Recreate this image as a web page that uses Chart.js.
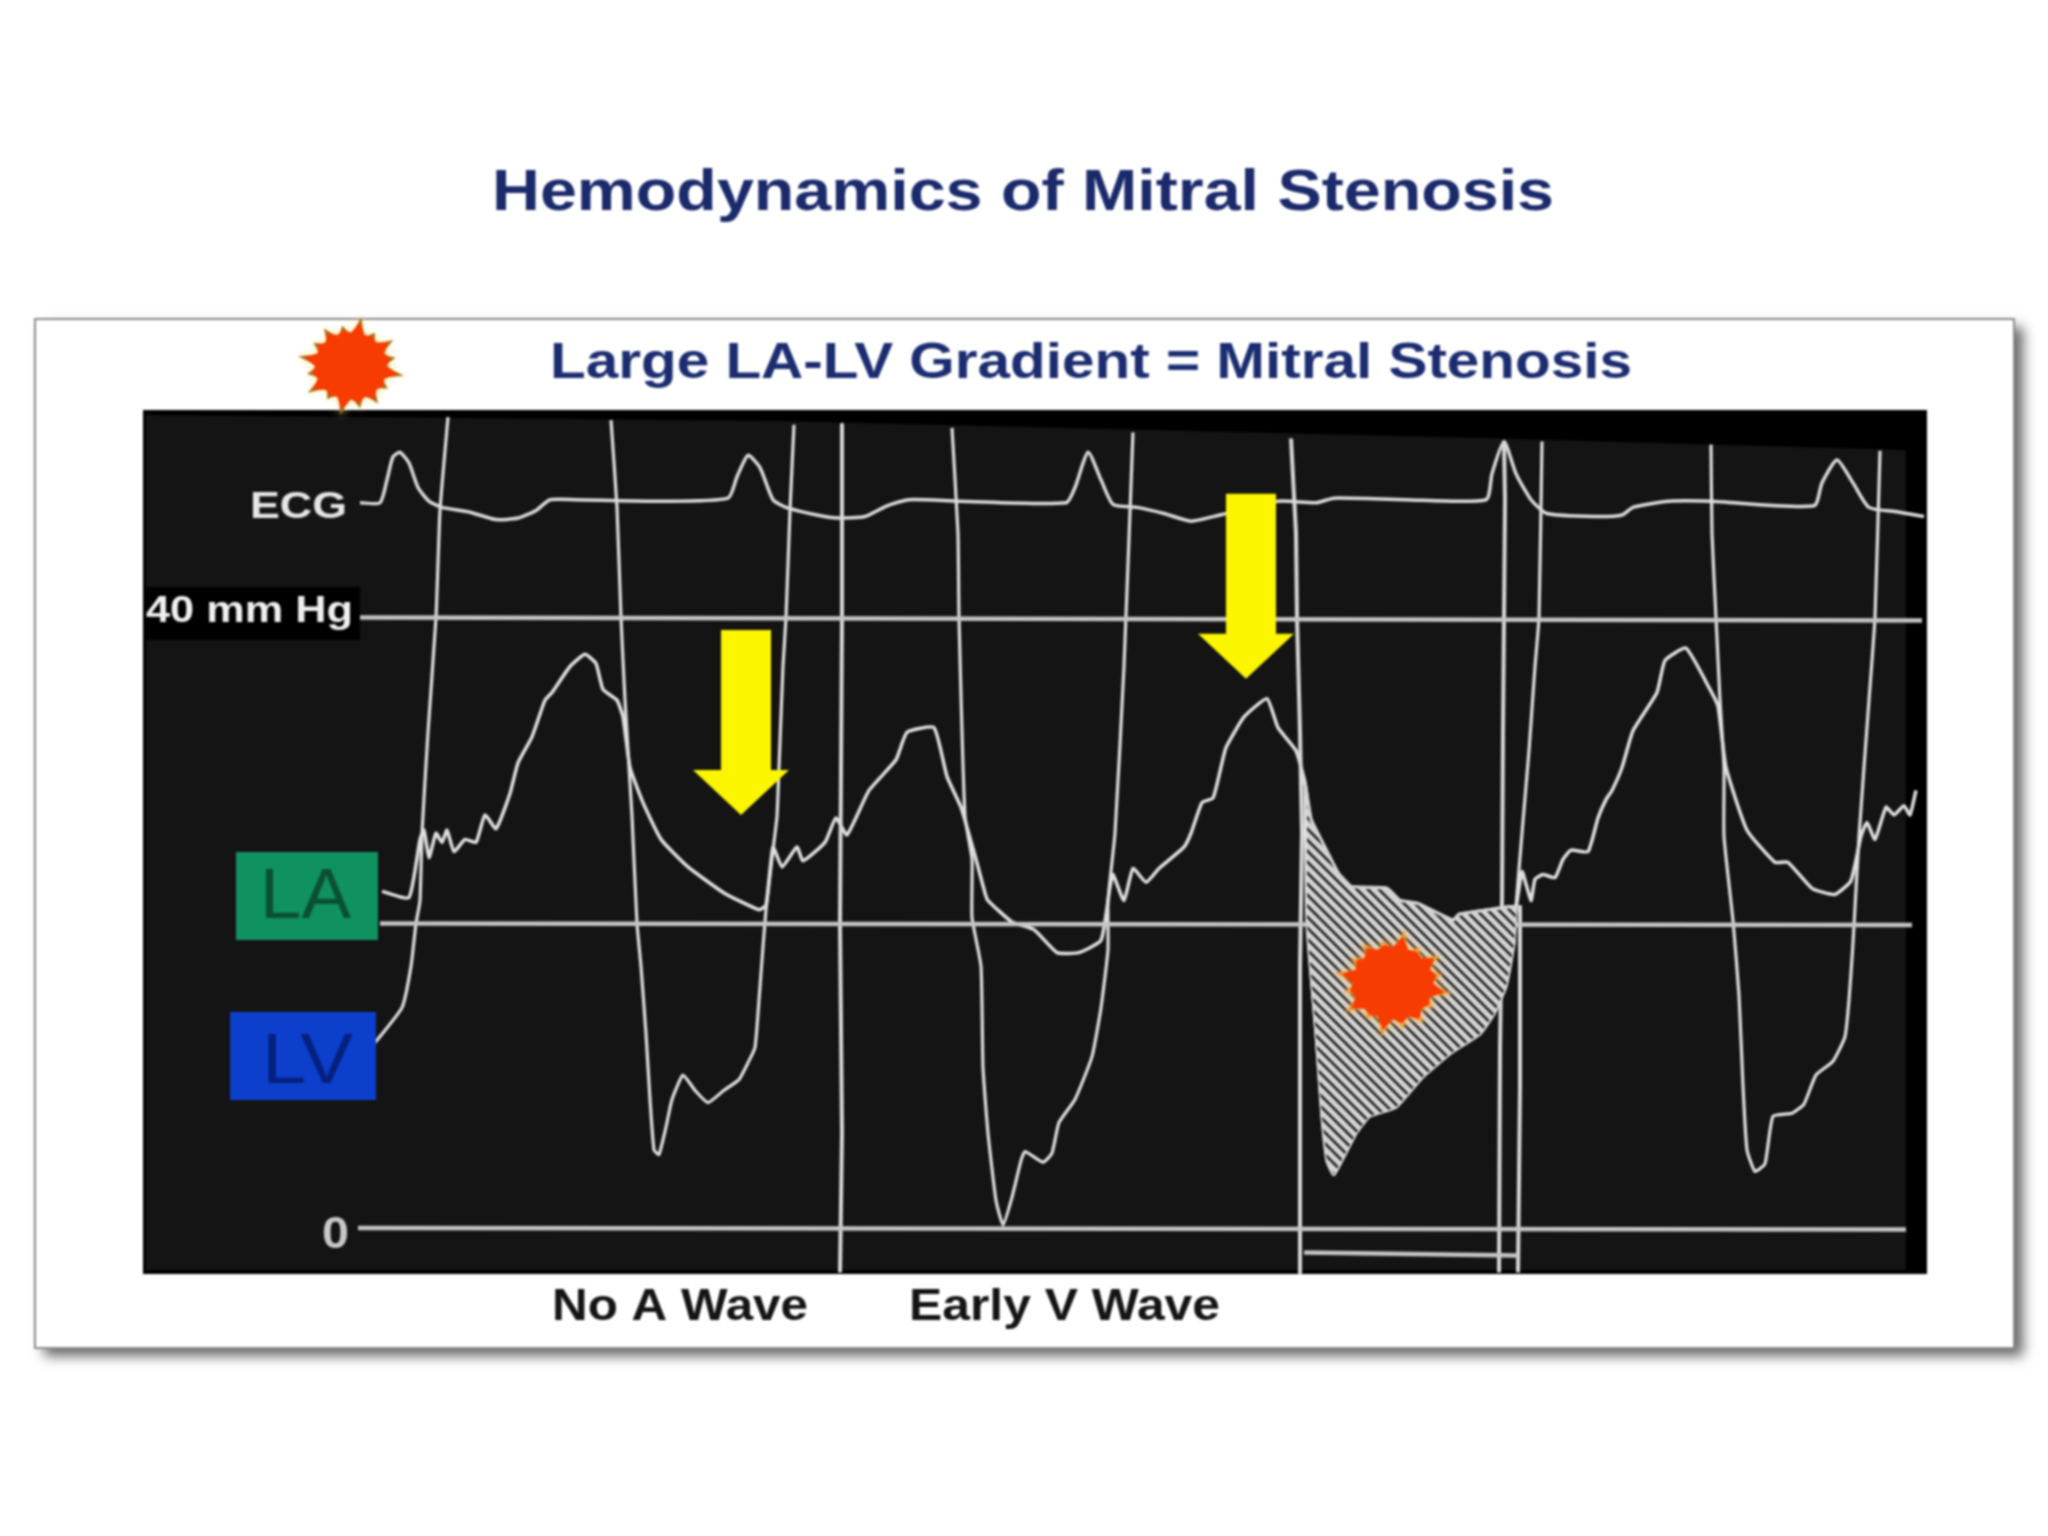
<!DOCTYPE html>
<html>
<head>
<meta charset="utf-8">
<title>Hemodynamics of Mitral Stenosis</title>
<script src="https://cdn.jsdelivr.net/npm/chart.js@4"></script>
<style>
    body { margin: 0; background: #fff; }
    canvas { display: block; filter: blur(0.9px); }
</style>
</head>
<body>
<canvas id="chartHemo" width="2048" height="1536"></canvas>
<script>
let titleText = 'Hemodynamics of Mitral Stenosis'
let subtitleText = 'Large LA-LV Gradient = Mitral Stenosis'
let waveNotes = ['No A Wave', 'Early V Wave']
let traceLabels = ['ECG', 'LA', 'LV']
let yTickValues = [40, 0]
let yTickLabels = ['40 mm Hg', '0']

// x = sweep position, y = mm Hg
let ecgX = [360, 380, 387, 393, 400, 409, 418, 429, 442, 469, 496, 518, 536, 550, 576, 657, 728, 737, 748, 760, 773, 786, 817, 838, 865, 887, 909, 959, 1066, 1075, 1088, 1101, 1113, 1137, 1164, 1191, 1220, 1278, 1316, 1334, 1405, 1486, 1492, 1504, 1516, 1531, 1547, 1596, 1622, 1633, 1669, 1710, 1814, 1822, 1837, 1853, 1869, 1898, 1924]
let ecgY = [47.4, 47.4, 48.9, 50.4, 50.7, 50.0, 48.4, 47.5, 47.1, 46.8, 46.3, 46.4, 46.9, 47.6, 47.6, 47.5, 47.7, 49.1, 50.5, 49.7, 47.6, 47.1, 46.6, 46.4, 46.5, 47.2, 47.6, 47.5, 47.4, 48.4, 50.7, 48.9, 47.3, 47.1, 46.7, 46.2, 46.6, 47.5, 47.4, 47.7, 47.6, 47.6, 49.3, 51.4, 49.3, 47.6, 46.7, 46.5, 46.6, 47.1, 47.5, 47.5, 47.2, 48.7, 50.2, 48.7, 47.1, 46.8, 46.5]

let laX = [382, 409, 420, 424, 429, 436, 442, 447, 454, 465, 476, 485, 496, 510, 518, 532, 545, 552, 570, 585, 596, 603, 617, 623, 630, 643, 661, 688, 724, 759, 766, 773, 782, 797, 803, 825, 836, 847, 869, 896, 907, 934, 947, 961, 976, 985, 988, 1012, 1034, 1057, 1079, 1101, 1110, 1113, 1124, 1133, 1146, 1159, 1184, 1191, 1202, 1213, 1222, 1226, 1244, 1267, 1278, 1296, 1305, 1311, 1338, 1351, 1387, 1400, 1418, 1453, 1459, 1478, 1510, 1516, 1522, 1531, 1535, 1543, 1555, 1563, 1571, 1588, 1598, 1606, 1612, 1622, 1633, 1657, 1665, 1686, 1710, 1718, 1726, 1747, 1775, 1788, 1812, 1835, 1851, 1861, 1867, 1875, 1886, 1894, 1904, 1910, 1916]
let laY = [22.0, 21.6, 25.4, 26.0, 24.2, 25.8, 25.2, 26.0, 24.6, 25.4, 25.2, 27.0, 26.1, 28.4, 30.4, 32.1, 34.5, 35.0, 36.7, 37.5, 36.9, 35.2, 34.5, 33.4, 30.1, 27.8, 25.4, 23.6, 21.9, 20.8, 21.1, 24.9, 23.6, 24.9, 24.0, 25.2, 26.8, 25.7, 28.6, 30.6, 32.4, 32.7, 29.5, 27.5, 24.1, 21.9, 21.4, 20.0, 19.5, 18.0, 18.0, 18.8, 22.3, 23.1, 21.4, 23.5, 22.6, 23.5, 24.9, 25.8, 27.8, 28.1, 30.4, 31.4, 33.4, 34.6, 32.7, 31.2, 29.1, 26.7, 23.2, 22.3, 22.2, 21.4, 21.2, 20.1, 20.5, 20.7, 21.0, 21.0, 23.3, 21.4, 22.8, 23.1, 22.9, 24.1, 24.7, 24.6, 26.8, 28.0, 28.6, 30.1, 32.5, 35.0, 37.1, 37.9, 35.2, 34.1, 30.1, 26.0, 23.9, 23.9, 22.2, 21.8, 22.7, 25.6, 26.5, 25.4, 27.5, 27.0, 27.6, 27.0, 28.6]

// one run per beat, the pen goes off the top between them
let lvX = [375, 402, 411, 416, 420, 422, 428, 436, 440, 448, null,
    611, 617, 621, 625, 632, 637, 641, 646, 650, 654, 659, 666, 672, 683, 695, 708, 724, 739, 748, 755, 759, 762, 766, 773, 777, 779, 783, 786, 790, 794, null,
    952, 958, 959, 965, 972, 972, 981, 983, 988, 996, 1003, 1012, 1021, 1025, 1043, 1052, 1059, 1075, 1092, 1101, 1108, 1108, 1115, 1124, 1133, null,
    1305, 1307, 1316, 1322, 1327, 1334, 1356, 1369, 1396, 1423, 1450, 1480, 1494, 1506, 1514, 1516, 1522, 1529, 1535, 1539, 1542, null,
    1711, 1712, 1716, 1720, 1724, 1724, 1733, 1739, 1743, 1747, 1755, 1765, 1773, 1792, 1804, 1816, 1833, 1845, 1849, 1853, 1859, 1869, 1875, 1880]
let lvY = [12.1, 14.4, 17.1, 19.9, 21.4, 25.8, 32.4, 39.9, 46.9, 53.0, null,
    52.8, 47.1, 39.9, 34.5, 26.9, 19.9, 17.1, 12.7, 8.4, 5.1, 4.8, 6.6, 8.4, 10.0, 9.0, 8.2, 9.0, 9.7, 10.8, 11.8, 14.9, 17.5, 20.8, 24.7, 26.9, 30.1, 36.7, 39.9, 46.9, 52.5, null,
    52.3, 45.4, 39.9, 26.9, 24.1, 20.3, 17.1, 10.5, 6.2, 1.8, 0.2, 2.0, 4.4, 5.0, 4.3, 4.9, 6.9, 8.4, 11.2, 14.4, 18.2, 21.4, 25.8, 36.7, 52.0, null,
    29.1, 19.9, 12.7, 7.3, 4.4, 3.5, 6.2, 7.3, 7.9, 9.9, 11.4, 12.7, 14.0, 15.8, 18.6, 21.0, 25.8, 31.2, 36.7, 39.9, 51.4, null,
    51.2, 45.4, 39.9, 34.5, 30.1, 25.6, 20.1, 15.2, 9.3, 5.1, 3.7, 4.2, 7.3, 7.5, 8.1, 10.0, 10.9, 12.5, 14.9, 18.6, 25.6, 34.5, 39.9, 50.8]

// timing marks that run down to the edge of the strip
let markX = [842, 842, 840, 842, 840, null,
    1291, 1296, 1297, 1300, 1302, 1300, 1300, null,
    1504, 1505, 1504, 1503, 1502, 1500, 1499, null,
    1520, 1520, 1518]
let markY = [52.5, 39.9, 19.9, 6.2, -2.9, null,
    51.6, 45.4, 39.9, 32.4, 25.8, 17.1, -2.9, null,
    51.4, 47.6, 39.9, 32.4, 21.4, 11.6, -2.9, null,
    21.0, 9.3, -2.9]

let refX = [360, 1922, null, 380, 1912, null, 358, 1906, null, 1304, 1518]
let refY = [39.9, 39.7, null, 19.9, 19.8, null, 0, -0.1, null, -1.6, -1.8]

let gradientFromX = 1305
let gradientToX = 1516

let arrowTipX = [741, 1246]
let arrowTipY = [27.0, 35.9]
let burstX = [1393]
let burstY = [16.0]

function points(xs, ys) {
    return xs.map(function (x, i) { return { x: x, y: ys[i] } })
}

let hatchTop = points(laX, laY).filter(p => p.x >= gradientFromX && p.x <= gradientToX)
let hatchBottom = points(lvX, lvY).filter(p => p.x >= gradientFromX && p.x <= gradientToX && p.y < 22)

function hatchPattern() {
    let tile = document.createElement('canvas')
    tile.width = 11
    tile.height = 11
    let c = tile.getContext('2d')
    c.fillStyle = '#1c1c1c'
    c.fillRect(0, 0, 11, 11)
    c.strokeStyle = '#d4d4d4'
    c.lineWidth = 5.2
    c.beginPath()
    c.moveTo(-11, 0); c.lineTo(11, 22)
    c.moveTo(0, 0); c.lineTo(11, 11)
    c.moveTo(0, -11); c.lineTo(22, 11)
    c.stroke()
    return c.createPattern(tile, 'repeat')
}

function fitText(ctx, text, x0, x1, baseline, font, color) {
    ctx.save()
    ctx.font = font
    ctx.fillStyle = color
    ctx.textAlign = 'left'
    ctx.textBaseline = 'alphabetic'
    let w = ctx.measureText(text).width
    ctx.translate(x0, baseline)
    ctx.scale((x1 - x0) / w, 1)
    ctx.fillText(text, 0, 0)
    ctx.restore()
}

function drawBurst(ctx, cx, cy, rx, ry, halo, tip) {
    let reach = [1, .8, .94, .84, 1, .82, .9, .86, 1, .8, .96, .83, 1, .84, .9, .82]
    let n = reach.length
    function shape(scale, valley) {
        ctx.beginPath()
        for (let i = 0; i < n; i++) {
            let a = (i + .5) / n * Math.PI * 2 - Math.PI / 2
            let b = (i + 1) / n * Math.PI * 2 - Math.PI / 2
            ctx.lineTo(cx + Math.cos(a) * rx * reach[i] * scale, cy + Math.sin(a) * ry * reach[i] * scale)
            ctx.lineTo(cx + Math.cos(b) * rx * valley * scale, cy + Math.sin(b) * ry * valley * scale)
        }
        ctx.closePath()
    }
    ctx.save()
    ctx.shadowColor = halo
    ctx.shadowBlur = 9
    ctx.fillStyle = tip
    shape(1, .62)
    ctx.fill()
    ctx.shadowBlur = 0
    ctx.fillStyle = '#f63c00'
    shape(.88, .76)
    ctx.fill()
    ctx.restore()
}

function drawArrow(ctx, x, y) {
    ctx.fillStyle = '#fbf500'
    ctx.beginPath()
    ctx.moveTo(x, y)
    ctx.lineTo(x - 48, y - 45)
    ctx.lineTo(x - 20, y - 45)
    ctx.lineTo(x - 20, y - 185)
    ctx.lineTo(x + 30, y - 185)
    ctx.lineTo(x + 30, y - 45)
    ctx.lineTo(x + 48, y - 45)
    ctx.closePath()
    ctx.fill()
}

const slideBackground = {
    id: 'slideBackground',
    beforeDatasetsDraw(chart) {
        let ctx = chart.ctx
        ctx.save()
        ctx.fillStyle = '#fff'
        ctx.fillRect(0, 0, 2048, 1536)
        ctx.shadowColor = 'rgba(0,0,0,.6)'
        ctx.shadowBlur = 12
        ctx.shadowOffsetX = 9
        ctx.shadowOffsetY = 8
        ctx.fillRect(35, 319, 1979, 1029)
        ctx.shadowColor = 'transparent'
        ctx.strokeStyle = '#8c8c8c'
        ctx.lineWidth = 2
        ctx.strokeRect(35, 319, 1979, 1029)

        ctx.fillStyle = '#000'
        ctx.fillRect(143, 410, 1784, 864)
        ctx.fillStyle = '#141414'
        ctx.beginPath()
        ctx.moveTo(146, 415)
        ctx.lineTo(780, 421)
        ctx.lineTo(1480, 438)
        ctx.lineTo(1906, 450)
        ctx.lineTo(1906, 1270)
        ctx.lineTo(146, 1270)
        ctx.closePath()
        ctx.fill()
        ctx.fillStyle = '#000'
        ctx.fillRect(143, 587, 217, 53)
        ctx.restore()
    }
}

const slideAnnotations = {
    id: 'slideAnnotations',
    afterDatasetsDraw(chart) {
        let ctx = chart.ctx
        let sx = chart.scales.x
        let sy = chart.scales.y

        fitText(ctx, titleText, 492, 1554, 210, 'bold 58px "Liberation Sans"', '#1b2a6b')
        fitText(ctx, subtitleText, 550, 1632, 378, 'bold 50px "Liberation Sans"', '#1b2d70')
        fitText(ctx, waveNotes[0], 552, 808, 1320, 'bold 44px "Liberation Sans"', '#141414')
        fitText(ctx, waveNotes[1], 909, 1220, 1320, 'bold 44px "Liberation Sans"', '#141414')

        fitText(ctx, traceLabels[0], 250, 347, 518, 'bold 36px "Liberation Sans"', '#e6e6e6')
        fitText(ctx, yTickLabels[0], 146, 353, sy.getPixelForValue(yTickValues[0]) + 6, 'bold 36px "Liberation Sans"', '#f0f0f0')
        fitText(ctx, yTickLabels[1], 322, 349, sy.getPixelForValue(yTickValues[1]) + 20, 'bold 44px "Liberation Sans"', '#c8c8c8')

        ctx.fillStyle = '#0f9160'
        ctx.fillRect(236, 852, 142, 88)
        ctx.fillStyle = '#0c3fcb'
        ctx.fillRect(230, 1012, 146, 88)
        fitText(ctx, traceLabels[1], 260, 351, 918, '70px "Liberation Sans"', '#0b4f35')
        fitText(ctx, traceLabels[2], 262, 353, 1083, '70px "Liberation Sans"', '#06207e')

        drawBurst(ctx, 351, 366, 54, 50, '#ffe9a0', '#a9701f')
        for (let i = 0; i < burstX.length; i++) {
            drawBurst(ctx, sx.getPixelForValue(burstX[i]), sy.getPixelForValue(burstY[i]), 60, 54, '#ffc060', '#f0a040')
        }
        for (let i = 0; i < arrowTipX.length; i++) {
            drawArrow(ctx, sx.getPixelForValue(arrowTipX[i]), sy.getPixelForValue(arrowTipY[i]))
        }
    }
}

const data = {
    datasets: [
        {
            label: 'Gradient',
            data: hatchTop,
            backgroundColor: hatchPattern(),
            borderColor: '#d4d4d4',
            borderWidth: 3,
            fill: '+1'
        },
        { label: 'Gradient lower', data: hatchBottom, borderColor: '#d4d4d4', borderWidth: 3 },
        { label: 'Reference', data: points(refX, refY), borderColor: '#c4c4c4', borderWidth: 4.5 },
        { label: 'Marks', data: points(markX, markY), borderColor: '#d8d8d8', borderWidth: 4 },
        { label: 'ECG', data: points(ecgX, ecgY), borderColor: '#dadada', borderWidth: 3.5, tension: .2 },
        { label: 'LV', data: points(lvX, lvY), borderColor: '#e0e0e0', borderWidth: 3.2, tension: .15 },
        { label: 'LA', data: points(laX, laY), borderColor: '#e0e0e0', borderWidth: 3.5, tension: .15 }
    ]
}

const config = {
    type: 'line',
    data: data,
    plugins: [slideBackground, slideAnnotations],
    options: {
        responsive: false,
        animation: false,
        layout: { padding: 0 },
        elements: { point: { radius: 0 }, line: { tension: 0, borderJoinStyle: 'round' } },
        spanGaps: false,
        plugins: {
            legend: { display: false },
            title: { display: false },
            tooltip: { enabled: false }
        },
        scales: {
            x: { type: 'linear', display: false, min: 0, max: 2048 },
            y: { type: 'linear', display: false, min: -20.13, max: 80.26 }
        }
    }
}

let myChart = new Chart(document.getElementById('chartHemo'), config)
</script>
</body>
</html>
